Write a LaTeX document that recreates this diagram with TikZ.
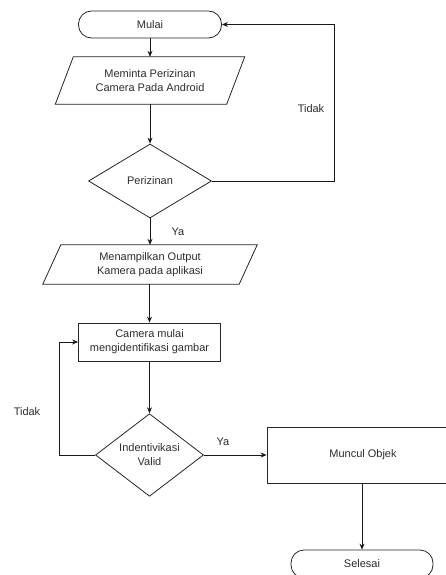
\documentclass[tikz,border=0pt]{standalone}
\usepackage{fontspec}
\setmainfont{Liberation Sans}
\usetikzlibrary{shapes.geometric,arrows.meta,calc}
\begin{document}
\begin{tikzpicture}[x=1pt,y=-1pt,
  every node/.style={font=\fontsize{11}{14}\selectfont, text=black!82, align=center, inner sep=0pt},
  shp/.style={draw=black!85, line width=0.8pt},
  term/.style={shp, rectangle, rounded corners=13pt},
  procbox/.style={shp, rectangle},
  iobox/.style={draw=none, rectangle},
  decide/.style={shp, diamond},
  conn/.style={draw=black!90, line width=0.8pt, -{Stealth[length=6pt,width=5pt]}},
  lbl/.style={text=black!82}
]
\path[use as bounding box, clip] (0,0) rectangle (446,575);
\fill[white] (0,0) rectangle (446,575);

\node[term, minimum width=143pt, minimum height=27pt] (mulai) at (150,24.5) {Mulai};
\node[iobox, minimum width=171pt, minimum height=47pt] (p1) at (150,80.5) {Meminta Perizinan\\Camera Pada Android};
\draw[shp] ($(p1.north west)+(9,0)$) -- ($(p1.north east)+(9,0)$) -- ($(p1.south east)+(-9,0)$) -- ($(p1.south west)+(-9,0)$) -- cycle;
\node[decide, minimum width=123pt, minimum height=74pt] (d1) at (150,181) {Perizinan};
\node[iobox, minimum width=196pt, minimum height=39pt] (p2) at (150,264.5) {Menampilkan Output\\Kamera pada aplikasi};
\draw[shp] ($(p2.north west)+(9,0)$) -- ($(p2.north east)+(9,0)$) -- ($(p2.south east)+(-9,0)$) -- ($(p2.south west)+(-9,0)$) -- cycle;
\node[procbox, minimum width=142pt, minimum height=38pt] (cam) at (149.5,342) {Camera mulai\\mengidentifikasi gambar};
\node[decide, minimum width=108pt, minimum height=76pt] (d2) at (149.5,455) {Indentivikasi\\Valid};
\node[procbox, minimum width=192pt, minimum height=56pt] (mun) at (363,455) {Muncul Objek};
\node[term, minimum width=142pt, minimum height=28pt] (sel) at (362,564) {Selesai};

\coordinate (r1) at (334,181);
\coordinate (r2) at (334,24.5);
\coordinate (l1) at (59,455);
\coordinate (l2) at (59,342);

\draw[conn] (mulai.south) -- (p1.north);
\draw[conn] (p1.south) -- (d1.north);
\draw[conn] (d1.east) -- (r1) -- (r2) -- (mulai.east);
\draw[conn] (d1.south) -- (p2.north);
\draw[conn] (p2.south -| cam.north) -- (cam.north);
\draw[conn] (cam.south) -- (d2.north);
\draw[conn] (d2.west) -- (l1) -- (l2) -- (cam.west);
\draw[conn] (d2.east) -- (mun.west);
\draw[conn] (mun.south -| sel.north) -- (sel.north);

\node[lbl] (t1) at (311,109) {Tidak};
\node[lbl] (y1) at (178,232) {Ya};
\node[lbl] (t2) at (27,412) {Tidak};
\node[lbl] (y2) at (223,442) {Ya};
\end{tikzpicture}
\end{document}
